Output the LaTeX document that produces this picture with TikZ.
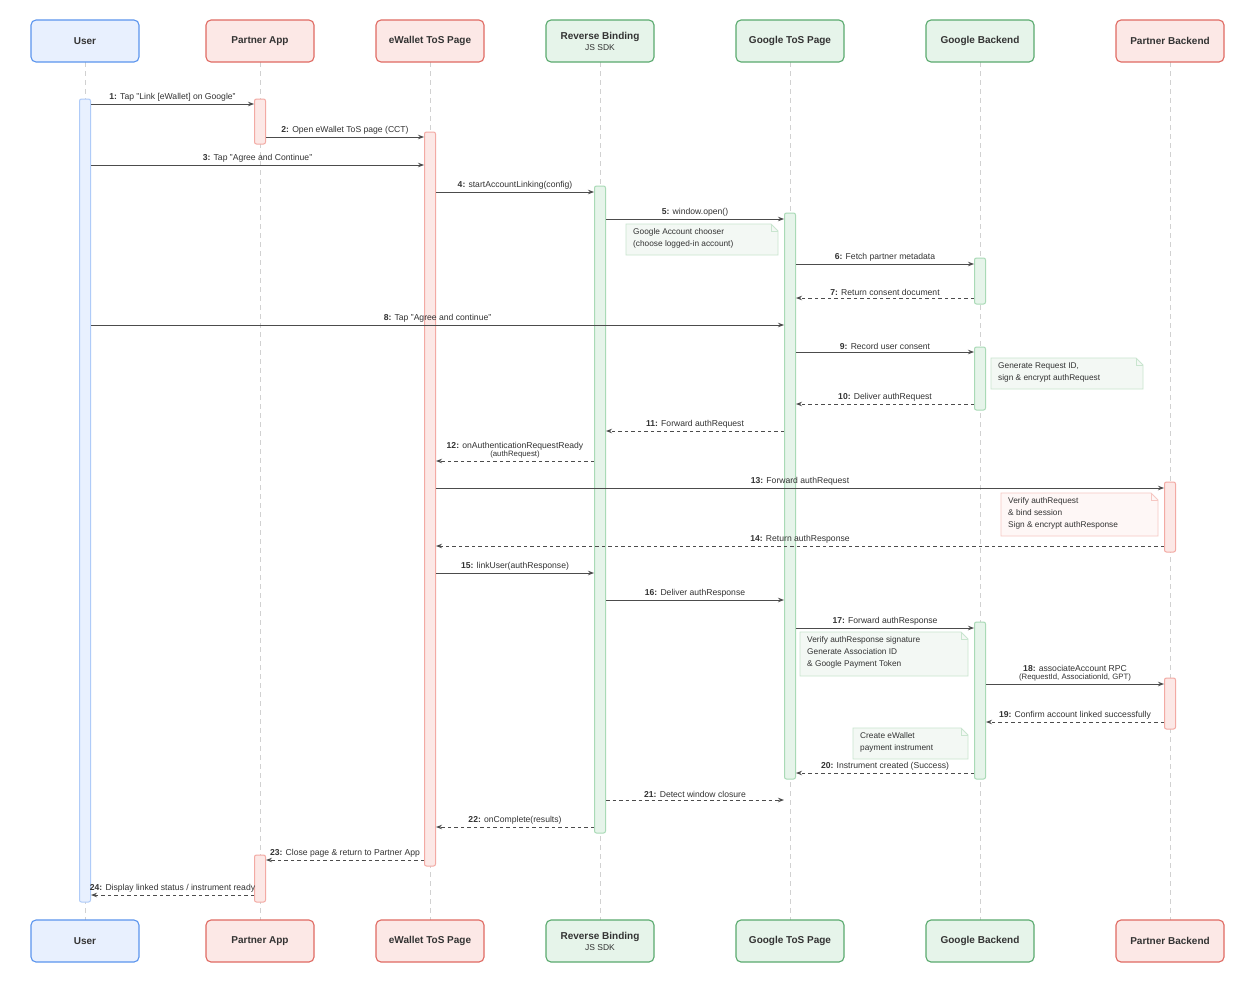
\documentclass[tikz,border=0pt]{standalone}
\usepackage{fontspec}
\setmainfont{Liberation Sans}
\usetikzlibrary{arrows.meta}
\definecolor{bF}{HTML}{E8F0FE}\definecolor{bD}{HTML}{5B95EE}\definecolor{bA}{HTML}{AFCBF8}
\definecolor{rF}{HTML}{FCE8E6}\definecolor{rD}{HTML}{E06A62}\definecolor{rA}{HTML}{F3AAA4}
\definecolor{gF}{HTML}{E6F4EA}\definecolor{gD}{HTML}{5AAA6E}\definecolor{gA}{HTML}{A9DAB6}
\definecolor{nF}{HTML}{F3F8F4}\definecolor{nD}{HTML}{C9E5CF}
\definecolor{pF}{HTML}{FEF7F6}\definecolor{pD}{HTML}{F6C8C3}
\definecolor{txt}{HTML}{333333}
\tikzset{
 head/.style={draw=#1D,fill=#1F,line width=1.1pt,rounded corners=5pt,minimum width=108pt,minimum height=42pt,align=center,font=\fontsize{10}{12}\selectfont\bfseries,text=txt},
 life/.style={draw=black!18,line width=1pt,dash pattern=on 5pt off 4pt},
 act/.style={draw=#1A,fill=#1F,line width=1pt,rounded corners=2pt,minimum width=11pt,inner sep=0},
 msg/.style={draw=black!70,line width=0.9pt,-{Stealth[length=6pt,width=4.5pt]}},
 ret/.style={msg,dash pattern=on 3.5pt off 3pt},
 lbl/.style={font=\fontsize{8.6}{10}\selectfont,text=txt,align=center,inner sep=1pt,above=1pt},
 ntxt/.style={font=\fontsize{8.3}{12}\selectfont,text=txt,align=left,inner sep=0,anchor=north west},
}
\newcommand\msgline[6]{\coordinate (#6a) at (#2,#1);\coordinate (#6b) at (#3,#1);
 \draw[#5] (#6a) -- node[lbl]{#4} (#6b);}
\newcommand\actbar[5]{\node[act=#5,minimum height={#4-#3}] (#1) at (#2,{(#3+#4)/2}) {};}
\newcommand\notebox[7]{\draw[draw=#6D,fill=#6F,line width=0.9pt] (#1,#2) -- ({#3-7},#2) -- (#3,{#2+7}) -- (#3,#4) -- (#1,#4) -- cycle;
 \draw[draw=#6D,line width=0.9pt] ({#3-7},#2) -- ({#3-7},{#2+7}) -- (#3,{#2+7});
 \node[ntxt] (#7) at ({#1+7},{#2+4}) {#5};}
\begin{document}
\begin{tikzpicture}[x=1pt,y=-1pt]
\useasboundingbox[fill=white] (0,0) rectangle (1260,980);
\foreach \n/\x in {U/85,PA/260,EW/430,RB/600,GT/790,GB/980,PB/1170}{
 \coordinate (t\n) at (\x,62); \coordinate (b\n) at (\x,920);
 \draw[life] (t\n) -- (b\n);}
\foreach \y/\s in {41/t,941/b}{
 \node[head=b] (\s hU) at (85,\y) {User};
 \node[head=r] (\s hPA) at (260,\y) {Partner App};
 \node[head=r] (\s hEW) at (430,\y) {eWallet ToS Page};
 \node[head=g] (\s hRB) at (600,\y) {Reverse Binding\\[-1pt]{\fontsize{8.5}{10}\selectfont\mdseries JS SDK}};
 \node[head=g] (\s hGT) at (790,\y) {Google ToS Page};
 \node[head=g] (\s hGB) at (980,\y) {Google Backend};
 \node[head=r] (\s hPB) at (1170,\y) {Partner Backend};}
\actbar{aU}{85}{99}{902}{b}
\actbar{aPA1}{260}{99}{144}{r}
\actbar{aPA2}{260}{855}{902}{r}
\actbar{aEW}{430}{132}{866}{r}
\actbar{aRB}{600}{186}{833}{g}
\actbar{aGT}{790}{213}{779}{g}
\actbar{aGB1}{980}{258}{304}{g}
\actbar{aGB2}{980}{347}{410}{g}
\actbar{aGB3}{980}{622}{779}{g}
\actbar{aPB1}{1170}{482}{552}{r}
\actbar{aPB2}{1170}{678}{729}{r}
\notebox{626}{224}{778}{255}{Google Account chooser\\(choose logged-in account)}{n}{n1}
\notebox{991}{358}{1143}{389}{Generate Request ID,\\sign \& encrypt authRequest}{n}{n2}
\notebox{1001}{493}{1158}{536}{Verify authRequest\\\& bind session\\Sign \& encrypt authResponse}{p}{n3}
\notebox{800}{632}{968}{676}{Verify authResponse signature\\Generate Association ID\\\& Google Payment Token}{n}{n4}
\notebox{853}{728}{968}{759}{Create eWallet\\payment instrument}{n}{n5}
\msgline{104}{91}{254}{\textbf{1:} Tap "Link [eWallet] on Google"}{msg}{m1}
\msgline{137}{266}{424}{\textbf{2:} Open eWallet ToS page (CCT)}{msg}{m2}
\msgline{165}{91}{424}{\textbf{3:} Tap "Agree and Continue"}{msg}{m3}
\msgline{192}{436}{594}{\textbf{4:} startAccountLinking(config)}{msg}{m4}
\msgline{219}{606}{784}{\textbf{5:} window.open()}{msg}{m5}
\msgline{264}{796}{974}{\textbf{6:} Fetch partner metadata}{msg}{m6}
\msgline{298}{974}{796}{\textbf{7:} Return consent document}{ret}{m7}
\msgline{325}{91}{784}{\textbf{8:} Tap "Agree and continue"}{msg}{m8}
\msgline{352}{796}{974}{\textbf{9:} Record user consent}{msg}{m9}
\msgline{404}{974}{796}{\textbf{10:} Deliver authRequest}{ret}{m10}
\msgline{431}{784}{606}{\textbf{11:} Forward authRequest}{ret}{m11}
\coordinate (m12a) at (594,461);\coordinate (m12b) at (436,461);
\draw[ret] (m12a) -- node[lbl]{\textbf{12:} onAuthenticationRequestReady\\[-2pt]{\fontsize{7.8}{9}\selectfont(authRequest)}} (m12b);
\msgline{488}{436}{1164}{\textbf{13:} Forward authRequest}{msg}{m13}
\msgline{546}{1164}{436}{\textbf{14:} Return authResponse}{ret}{m14}
\msgline{573}{436}{594}{\textbf{15:} linkUser(authResponse)}{msg}{m15}
\msgline{600}{606}{784}{\textbf{16:} Deliver authResponse}{msg}{m16}
\msgline{628}{796}{974}{\textbf{17:} Forward authResponse}{msg}{m17}
\coordinate (m18a) at (986,684);\coordinate (m18b) at (1164,684);
\draw[msg] (m18a) -- node[lbl]{\textbf{18:} associateAccount RPC\\[-2pt]{\fontsize{7.8}{9}\selectfont(RequestId, AssociationId, GPT)}} (m18b);
\msgline{722}{1164}{986}{\textbf{19:} Confirm account linked successfully}{ret}{m19}
\msgline{773}{974}{796}{\textbf{20:} Instrument created (Success)}{ret}{m20}
\msgline{800}{606}{784}{\textbf{21:} Detect window closure}{ret}{m21}
\msgline{827}{594}{436}{\textbf{22:} onComplete(results)}{ret}{m22}
\msgline{860}{424}{266}{\textbf{23:} Close page \& return to Partner App}{ret}{m23}
\msgline{895}{254}{91}{\textbf{24:} Display linked status / instrument ready}{ret}{m24}
\end{tikzpicture}
\end{document}
